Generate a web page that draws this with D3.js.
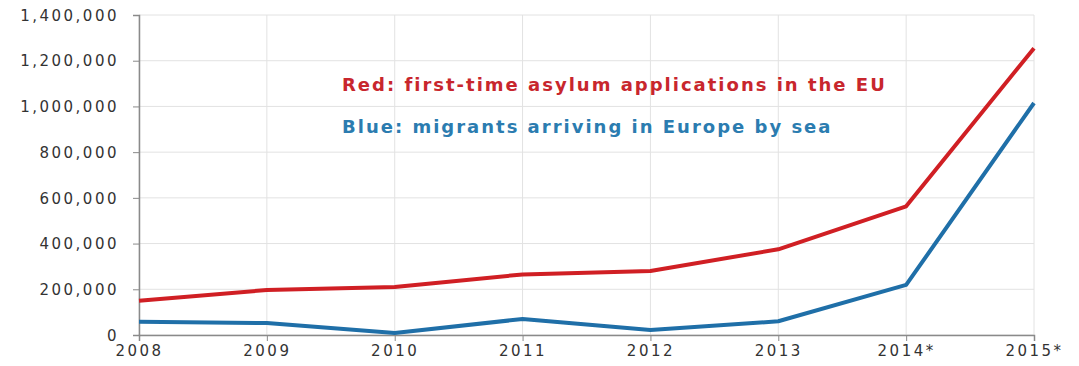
<!DOCTYPE html>
<html>
<head>
<meta charset="utf-8">
<script src="https://cdn.jsdelivr.net/npm/d3@7"></script>
<style>
  body { margin: 0; background: #fff; }
  svg { display: block; font-family: "DejaVu Sans", Verdana, sans-serif; }
</style>
</head>
<body>
<div id="chart"></div>
<script>
const years = ["2008", "2009", "2010", "2011", "2012", "2013", "2014*", "2015*"];
const asylum = [150000, 197000, 210000, 265000, 280000, 375000, 563000, 1255000];
const seaArrivals = [58000, 52000, 9000, 70000, 22000, 60000, 219000, 1015000];
const yTicks = [0, 200000, 400000, 600000, 800000, 1000000, 1200000, 1400000];

const width = 1079, height = 366;
const margin = { top: 15, right: 45, bottom: 31, left: 139 };

const svg = d3.select("#chart").append("svg")
  .attr("width", width)
  .attr("height", height);

const x = d3.scalePoint().domain(years).range([margin.left, width - margin.right]);
const y = d3.scaleLinear().domain([0, 1400000]).range([height - margin.bottom, margin.top]);

// grid
svg.append("g").selectAll("line.h").data(yTicks).enter().append("line")
  .attr("x1", margin.left).attr("x2", width - margin.right)
  .attr("y1", d => y(d)).attr("y2", d => y(d))
  .attr("stroke", "#e2e2e2").attr("stroke-width", 1);
svg.append("g").selectAll("line.v").data(years).enter().append("line")
  .attr("x1", d => x(d)).attr("x2", d => x(d))
  .attr("y1", margin.top).attr("y2", height - margin.bottom)
  .attr("stroke", "#e2e2e2").attr("stroke-width", 1);

// axes
const yAxis = svg.append("g")
  .attr("transform", `translate(${margin.left},0)`)
  .call(d3.axisLeft(y).tickValues(yTicks).tickFormat(d3.format(",")).tickSize(6).tickPadding(14));
const xAxis = svg.append("g")
  .attr("transform", `translate(0,${height - margin.bottom})`)
  .call(d3.axisBottom(x).tickSize(6).tickPadding(4));

[yAxis, xAxis].forEach(g => {
  g.select(".domain").attr("stroke", "#8a8a8a").attr("stroke-width", 1.5);
  g.selectAll(".tick line").attr("stroke", "#8a8a8a");
  g.selectAll("text").attr("fill", "#333").attr("font-size", 15)
    .attr("font-family", "DejaVu Sans, Verdana, sans-serif")
    .style("letter-spacing", "2.5px");
});
yAxis.selectAll("text").attr("dy", "0.35em");

// lines
const line = d3.line().x((d, i) => x(years[i])).y(d => y(d));
svg.append("path").datum(asylum)
  .attr("d", line).attr("fill", "none")
  .attr("stroke", "#d01f24").attr("stroke-width", 4).attr("stroke-linejoin", "round");
svg.append("path").datum(seaArrivals)
  .attr("d", line).attr("fill", "none")
  .attr("stroke", "#1f6fa8").attr("stroke-width", 4).attr("stroke-linejoin", "round");

// labels
svg.append("text").attr("x", 342).attr("y", 91)
  .attr("fill", "#c8262d").attr("font-size", 18).attr("font-weight", "bold")
  .style("letter-spacing", "2px")
  .text("Red: first-time asylum applications in the EU");
svg.append("text").attr("x", 342).attr("y", 133)
  .attr("fill", "#2b7cb0").attr("font-size", 18).attr("font-weight", "bold")
  .style("letter-spacing", "2px")
  .text("Blue: migrants arriving in Europe by sea");
</script>
</body>
</html>
